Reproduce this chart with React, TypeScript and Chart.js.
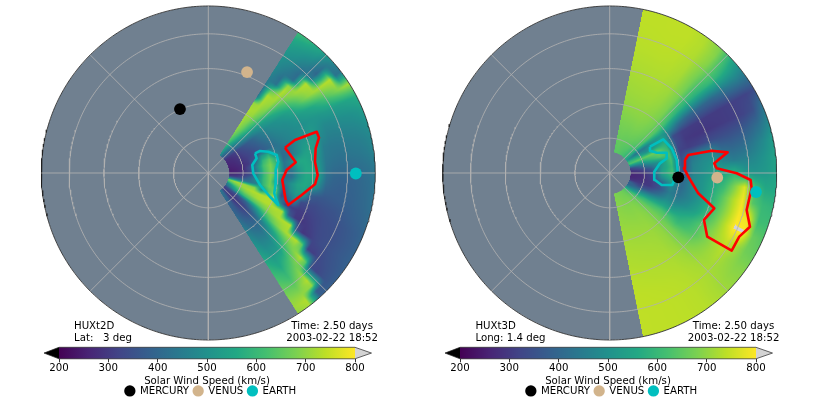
import React, { useEffect, useRef } from "react";
import { Chart, registerables } from "chart.js";

Chart.register(...registerables);

const FONT = "'DejaVu Sans'";
const RMAX = 240;
const RHOLE = 30;
const RINGS = [50, 100, 150, 200];
const SPOKES = [0, 45, 90, 135, 180, 225, 270, 315];
const CB_TICKS = [200, 300, 400, 500, 600, 700, 800];
const VIRIDIS = [
  [68, 1, 84], [72, 36, 117], [65, 68, 135], [53, 95, 141], [42, 120, 142], [33, 145, 140],
  [34, 168, 132], [68, 191, 112], [122, 209, 81], [189, 223, 38], [253, 231, 37],
];

// Longitude of the first column, spacing, and radial rows of each panel
const LEFT_THETA0 = 57.5;
const LEFT_DTHETA = 5;
const LEFT_EDGE = 57.5;
const LEFT_R = [30, 40, 50, 60, 70, 80, 90, 100, 110, 120, 130, 140, 150, 160, 170, 180, 190, 200, 210, 220, 230, 240];
const LEFT_SPEED = [
  [500, 560, 620, 660, 690, 710, 715, 720, 725, 700, 440, 410, 430, 450, 470, 480, 490, 505, 520, 540, 570, 610],
  [430, 470, 530, 590, 630, 660, 680, 700, 715, 720, 725, 725, 640, 430, 420, 440, 460, 480, 500, 520, 550, 590],
  [380, 410, 450, 500, 540, 580, 600, 630, 655, 680, 700, 715, 725, 730, 700, 420, 410, 430, 460, 490, 520, 550],
  [330, 350, 390, 430, 460, 480, 500, 520, 535, 560, 585, 610, 645, 680, 710, 725, 730, 450, 400, 420, 450, 490],
  [285, 300, 320, 350, 375, 400, 440, 470, 490, 500, 515, 535, 565, 610, 660, 695, 715, 725, 730, 735, 430, 430],
  [275, 285, 310, 335, 360, 385, 420, 450, 470, 485, 490, 505, 520, 535, 550, 570, 595, 625, 655, 685, 710, 720],
  [270, 280, 300, 325, 345, 370, 400, 430, 455, 470, 480, 490, 495, 505, 510, 515, 525, 530, 535, 545, 555, 570],
  [265, 275, 295, 315, 340, 365, 390, 415, 440, 460, 475, 490, 505, 520, 500, 480, 480, 490, 495, 500, 510, 530],
  [260, 270, 290, 310, 360, 520, 570, 460, 420, 430, 470, 510, 530, 530, 480, 460, 460, 465, 470, 475, 485, 500],
  [255, 265, 280, 305, 420, 590, 650, 560, 410, 430, 480, 530, 550, 520, 450, 440, 440, 445, 450, 455, 465, 480],
  [250, 258, 275, 340, 480, 620, 680, 590, 430, 480, 560, 560, 540, 500, 440, 430, 425, 430, 435, 440, 450, 470],
  [255, 260, 280, 330, 460, 610, 680, 600, 420, 440, 520, 560, 560, 510, 430, 415, 410, 410, 415, 420, 430, 445],
  [270, 280, 300, 340, 470, 600, 680, 590, 410, 420, 510, 560, 560, 520, 420, 395, 390, 390, 395, 405, 415, 435],
  [300, 310, 340, 400, 480, 600, 670, 500, 430, 500, 550, 560, 530, 470, 395, 385, 380, 385, 390, 400, 410, 430],
  [450, 440, 430, 430, 450, 590, 670, 640, 350, 480, 530, 540, 380, 365, 365, 370, 375, 380, 385, 395, 405, 420],
  [680, 720, 720, 700, 690, 500, 620, 700, 340, 400, 490, 340, 335, 335, 345, 350, 355, 365, 375, 385, 395, 410],
  [600, 660, 700, 720, 730, 730, 730, 730, 500, 320, 310, 305, 310, 320, 330, 340, 345, 350, 360, 370, 380, 395],
  [450, 560, 640, 680, 700, 720, 730, 730, 730, 720, 380, 300, 295, 305, 320, 335, 340, 345, 355, 365, 375, 390],
  [420, 480, 560, 600, 620, 640, 660, 690, 710, 725, 730, 730, 340, 295, 305, 325, 340, 345, 355, 365, 375, 385],
  [340, 340, 340, 370, 400, 460, 520, 580, 630, 670, 700, 720, 730, 730, 640, 315, 310, 330, 345, 355, 365, 380],
  [300, 300, 300, 315, 330, 360, 400, 440, 480, 520, 560, 600, 640, 670, 700, 730, 640, 335, 325, 345, 360, 380],
  [330, 315, 300, 315, 330, 350, 380, 400, 420, 450, 480, 505, 530, 575, 620, 650, 680, 705, 730, 700, 375, 380],
  [420, 400, 380, 370, 370, 380, 400, 420, 440, 460, 480, 500, 520, 540, 560, 590, 610, 640, 670, 700, 730, 720],
  [440, 420, 400, 390, 400, 420, 440, 460, 480, 500, 520, 540, 560, 580, 600, 620, 640, 660, 680, 700, 710, 700],
];

const RIGHT_THETA0 = 78;
const RIGHT_DTHETA = 6;
const RIGHT_EDGE = 78.5;
const RIGHT_R = [30, 45, 60, 75, 90, 105, 120, 135, 150, 165, 180, 195, 210, 225, 240];
const RIGHT_SPEED = [
  [640, 650, 665, 678, 690, 702, 710, 716, 722, 728, 733, 736, 738, 740, 740],
  [645, 655, 668, 680, 692, 704, 712, 718, 724, 729, 734, 737, 739, 740, 740],
  [640, 650, 665, 680, 694, 705, 713, 719, 725, 730, 735, 738, 740, 741, 741],
  [630, 645, 665, 682, 694, 704, 712, 718, 723, 729, 733, 736, 739, 741, 741],
  [620, 640, 660, 677, 688, 696, 703, 708, 713, 718, 722, 725, 728, 730, 726],
  [600, 620, 650, 665, 675, 680, 682, 680, 678, 675, 675, 680, 690, 690, 680],
  [570, 590, 625, 640, 640, 620, 595, 580, 575, 575, 585, 600, 590, 570, 540],
  [520, 430, 440, 500, 520, 490, 430, 400, 395, 395, 400, 420, 440, 450, 440],
  [600, 560, 490, 530, 570, 340, 310, 305, 305, 305, 305, 310, 315, 320, 340],
  [620, 650, 660, 670, 590, 340, 300, 295, 295, 300, 305, 310, 320, 345, 430],
  [480, 520, 580, 640, 620, 320, 310, 320, 340, 345, 350, 360, 385, 420, 480],
  [320, 400, 470, 500, 620, 340, 430, 470, 480, 410, 400, 410, 440, 480, 530],
  [290, 320, 370, 520, 600, 340, 460, 490, 510, 470, 450, 460, 480, 510, 545],
  [270, 280, 320, 540, 620, 350, 470, 500, 540, 560, 590, 520, 510, 520, 545],
  [265, 275, 310, 470, 560, 400, 480, 510, 560, 600, 680, 770, 620, 560, 560],
  [270, 280, 300, 350, 480, 410, 470, 510, 570, 640, 720, 790, 640, 600, 590],
  [290, 300, 300, 360, 450, 430, 470, 520, 580, 650, 720, 795, 780, 610, 610],
  [400, 340, 360, 420, 480, 470, 500, 540, 600, 660, 730, 802, 804, 660, 640],
  [380, 430, 480, 520, 540, 530, 560, 590, 640, 680, 720, 750, 720, 670, 660],
  [450, 530, 590, 610, 630, 620, 600, 620, 640, 680, 710, 730, 705, 690, 690],
  [560, 630, 650, 665, 670, 670, 670, 670, 680, 695, 710, 718, 712, 705, 705],
  [640, 665, 680, 690, 695, 700, 702, 704, 710, 716, 722, 725, 724, 722, 722],
  [660, 678, 690, 698, 704, 710, 714, 718, 723, 727, 731, 733, 734, 734, 734],
  [670, 680, 690, 698, 706, 712, 718, 722, 727, 731, 735, 737, 738, 738, 738],
  [675, 685, 692, 700, 708, 714, 720, 724, 729, 733, 737, 739, 740, 740, 740],
  [680, 688, 695, 702, 710, 716, 722, 726, 731, 735, 739, 740, 741, 741, 741],
  [682, 690, 698, 704, 712, 718, 724, 728, 733, 737, 740, 741, 742, 742, 742],
];

// Contours, in solar radii (x, y) on the panel plane
const LEFT_CYAN_X = [67.1, 74.3, 86.2, 98.3, 100.6, 96.9, 96.9, 94.8, 100.6, 88.7, 74.3, 64.7, 63.2, 69.5];
const LEFT_CYAN_Y = [28.3, 31.6, 30.6, 25.9, 16.2, 4.3, -14.8, -29.2, -46, -34.1, -17.2, -0.4, 11.5, 21.1];
const LEFT_RED_X = [110.2, 124.6, 155.8, 159.1, 154.3, 153.3, 157.2, 153.3, 134.2, 114.9, 111.2, 106.3, 112.6, 125.6, 119.8];
const LEFT_RED_Y = [36.4, 47.4, 59.3, 50.7, 35.5, 16.2, -2.9, -16.2, -31.6, -46, -38.8, -10.1, 4.3, 15.4, 23.4];
const RIGHT_CYAN_X = [57.9, 77, 89.1, 96.3, 97.7, 89.9, 74.7, 65.1, 64.1, 72.3, 82.3, 81.9, 67.5, 57.9];
const RIGHT_CYAN_Y = [37.8, 48.4, 35.5, 18.7, 1.9, -17.2, -17.2, -10.1, 1.9, 13.9, 21.1, 29.2, 29.2, 32];
const RIGHT_RED_X = [108.2, 112.9, 146.6, 169.5, 150.3, 153.7, 182.5, 202.6, 204, 196.8, 201.6, 186.2, 175.3, 140.2, 135.5, 150.3, 127.3, 114.4, 106.8];
const RIGHT_RED_Y = [18.7, 25.9, 32, 29.7, 13.9, 6.8, -0.4, -10.1, -22, -53.2, -77.2, -91.5, -111.6, -91.5, -67.5, -50.7, -29.2, -7.6, 6.8];

const PLANET_NAMES = ["MERCURY", "VENUS", "EARTH"];
const PLANET_COLORS = ["#000000", "#d2b48c", "#00bfbf"];
const LEFT_PLANET_R = [100.5, 155.4, 212];
const LEFT_PLANET_THETA = [113.9, 69, -0.2];
const RIGHT_PLANET_R = [98.8, 154.7, 212];
const RIGHT_PLANET_THETA = [-3.6, -2.5, -7.4];

const polar = (r: number, deg: number) => ({
  x: r * Math.cos((deg * Math.PI) / 180),
  y: r * Math.sin((deg * Math.PI) / 180),
});

function viridis(v: number): number[] {
  if (v > 800) return [211, 211, 211];
  const t = Math.max(0, Math.min(1, (v - 200) / 600)) * 10;
  const i = Math.min(9, Math.floor(t));
  const f = t - i;
  return [0, 1, 2].map((k) => VIRIDIS[i][k] + (VIRIDIS[i + 1][k] - VIRIDIS[i][k]) * f);
}

type Field = { theta0: number; dTheta: number; edge: number; r: number[]; speed: number[][] };

function sampleField(f: Field, theta: number, r: number): number {
  const u = Math.max(0, Math.min(f.speed.length - 1.0001, (f.theta0 - theta) / f.dTheta));
  const step = f.r[1] - f.r[0];
  const w = Math.max(0, Math.min(f.r.length - 1.0001, (r - f.r[0]) / step));
  const i = Math.floor(u);
  const j = Math.floor(w);
  const a = u - i;
  const b = w - j;
  return (
    f.speed[i][j] * (1 - a) * (1 - b) +
    f.speed[i + 1][j] * a * (1 - b) +
    f.speed[i][j + 1] * (1 - a) * b +
    f.speed[i + 1][j + 1] * a * b
  );
}

const fieldPlugin = (field: Field, notes: { l: string[]; r: string[] }) => ({
  id: "solarField",
  beforeDatasetsDraw(chart: any) {
    const { ctx, chartArea, scales } = chart;
    const sx = scales.x;
    const sy = scales.y;
    const cx = sx.getPixelForValue(0);
    const cy = sy.getPixelForValue(0);
    const rad = sx.getPixelForValue(RMAX) - cx;
    ctx.save();
    ctx.beginPath();
    ctx.arc(cx, cy, rad, 0, Math.PI * 2);
    ctx.fillStyle = "#708090";
    ctx.fill();
    ctx.clip();
    const ss = 2;
    const w = Math.ceil(chartArea.width) * ss;
    const h = Math.ceil(chartArea.height) * ss;
    const off = document.createElement("canvas");
    off.width = w;
    off.height = h;
    const octx = off.getContext("2d")!;
    const img = octx.createImageData(w, h);
    for (let j = 0; j < h; j++) {
      const yv = sy.getValueForPixel(chartArea.top + (j + 0.5) / ss);
      for (let i = 0; i < w; i++) {
        const xv = sx.getValueForPixel(chartArea.left + (i + 0.5) / ss);
        const r = Math.hypot(xv, yv);
        if (r < RHOLE || r > RMAX) continue;
        const th = (Math.atan2(yv, xv) * 180) / Math.PI;
        if (Math.abs(th) > field.edge) continue;
        const c = viridis(sampleField(field, th, r));
        const p = (j * w + i) * 4;
        img.data[p] = c[0];
        img.data[p + 1] = c[1];
        img.data[p + 2] = c[2];
        img.data[p + 3] = 255;
      }
    }
    octx.putImageData(img, 0, 0);
    ctx.imageSmoothingEnabled = true;
    ctx.drawImage(off, chartArea.left, chartArea.top, w / ss, h / ss);
    ctx.restore();
  },
  afterDatasetsDraw(chart: any) {
    const { ctx, scales } = chart;
    ctx.save();
    ctx.font = `10.2px ${FONT}`;
    ctx.fillStyle = "#000";
    ctx.textBaseline = "middle";
    ctx.textAlign = "left";
    const x1 = scales.x.getPixelForValue(-193);
    ctx.fillText(notes.l[0], x1, scales.y.getPixelForValue(-219.8));
    ctx.fillText(notes.l[1], x1, scales.y.getPixelForValue(-237));
    ctx.textAlign = "center";
    const x2 = scales.x.getPixelForValue(178);
    ctx.fillText(notes.r[0], x2, scales.y.getPixelForValue(-219.8));
    ctx.fillText(notes.r[1], x2, scales.y.getPixelForValue(-237));
    ctx.restore();
  },
});

const lineSet = (data: any[], color: string, width: number, order: number) => ({
  type: "scatter",
  showLine: true,
  data,
  borderColor: color,
  backgroundColor: color,
  borderWidth: width,
  pointRadius: 0,
  tension: 0,
  clip: false,
  order,
  borderJoinStyle: "round",
});

const closed = (xs: number[], ys: number[]) =>
  [...xs, xs[0]].map((x, i) => ({ x, y: ys[i % ys.length] }));

function diskConfig(field: Field, cyan: any[], red: any[], pr: number[], pt: number[], notes: any, dx: number) {
  const circle = (r: number) => {
    const pts: any[] = [];
    for (let a = 0; a <= 360; a += 1) pts.push(polar(r, a));
    return pts;
  };
  return {
    type: "scatter",
    data: {
      datasets: [
        ...PLANET_NAMES.map((n, i) => ({
          label: n,
          data: [polar(pr[i], pt[i])],
          backgroundColor: PLANET_COLORS[i],
          borderWidth: 0,
          pointRadius: 5.9,
          clip: false,
          order: 0,
        })),
        lineSet(red, "#ff0000", 2.6, 1),
        lineSet(cyan, "#00bfbf", 2.6, 1),
        ...RINGS.map((r) => lineSet(circle(r), "rgba(176,176,176,0.95)", 0.9, 2)),
        ...SPOKES.map((a) => lineSet([{ x: 0, y: 0 }, polar(RMAX, a)], "rgba(176,176,176,0.95)", 0.9, 2)),
        lineSet(circle(RMAX), "rgba(30,30,30,0.8)", 1, 2),
      ],
    },
    options: {
      responsive: false,
      animation: false,
      events: [],
      layout: { padding: { left: 41 + dx, right: 41 - dx, top: 6, bottom: 69 } },
      plugins: { legend: { display: false }, tooltip: { enabled: false } },
      scales: {
        x: { type: "linear", min: -RMAX, max: RMAX, display: false },
        y: { type: "linear", min: -RMAX, max: RMAX, display: false },
      },
    },
    plugins: [fieldPlugin(field, notes)],
  };
}

const colorbarPlugin = {
  id: "colorbarFill",
  afterLayout(chart: any) {
    chart.legend.left += 3.5;
    chart.legend.right += 3.5;
  },
  beforeDatasetsDraw(chart: any) {
    const { ctx, chartArea: a, scales } = chart;
    const sx = scales.x;
    ctx.save();
    const grad = ctx.createLinearGradient(sx.getPixelForValue(200), 0, sx.getPixelForValue(800), 0);
    VIRIDIS.forEach((c, i) => grad.addColorStop(i / (VIRIDIS.length - 1), `rgb(${c[0]},${c[1]},${c[2]})`));
    ctx.fillStyle = grad;
    ctx.fillRect(a.left, a.top, a.width, a.height);
    const midY = (a.top + a.bottom) / 2;
    const ext = 15;
    ctx.fillStyle = "#000";
    ctx.beginPath();
    ctx.moveTo(a.left, a.top);
    ctx.lineTo(a.left - ext, midY);
    ctx.lineTo(a.left, a.bottom);
    ctx.closePath();
    ctx.fill();
    ctx.fillStyle = "#d3d3d3";
    ctx.beginPath();
    ctx.moveTo(a.right, a.top);
    ctx.lineTo(a.right + ext + 1.5, midY);
    ctx.lineTo(a.right, a.bottom);
    ctx.closePath();
    ctx.fill();
    ctx.strokeStyle = "#222";
    ctx.lineWidth = 0.7;
    ctx.beginPath();
    ctx.moveTo(a.left, a.top);
    ctx.lineTo(a.left - ext, midY);
    ctx.lineTo(a.left, a.bottom);
    ctx.lineTo(a.right, a.bottom);
    ctx.lineTo(a.right + ext + 1.5, midY);
    ctx.lineTo(a.right, a.top);
    ctx.closePath();
    ctx.stroke();
    ctx.restore();
  },
};

function barConfig() {
  return {
    type: "scatter",
    data: {
      datasets: PLANET_NAMES.map((n, i) => ({
        label: n,
        data: [],
        backgroundColor: PLANET_COLORS[i],
        borderColor: PLANET_COLORS[i],
        borderWidth: 0,
        pointStyle: "circle",
      })),
    },
    options: {
      responsive: false,
      animation: false,
      events: [],
      layout: { padding: { left: 59, right: 61, top: 7.3, bottom: 2 } },
      plugins: {
        tooltip: { enabled: false },
        legend: {
          position: "bottom",
          labels: {
            usePointStyle: true,
            pointStyle: "circle",
            boxHeight: 8,
            boxWidth: 11,
            padding: 4,
            color: "#000",
            font: { family: FONT, size: 10.2 },
          },
        },
      },
      scales: {
        y: { type: "linear", min: 0, max: 1, display: false },
        x: {
          type: "linear",
          min: 200,
          max: 800,
          afterBuildTicks: (s: any) => {
            s.ticks = CB_TICKS.map((value) => ({ value }));
          },
          afterFit: (s: any) => {
            s.height = 23;
          },
          border: { display: false },
          grid: { drawOnChartArea: false, color: "#000", tickLength: 3.5, tickWidth: 0.8 },
          ticks: { color: "#000", font: { family: FONT, size: 10.2 }, padding: 0, maxRotation: 0, autoSkip: false },
          title: {
            display: true,
            text: "Solar Wind Speed (km/s)",
            color: "#000",
            font: { family: FONT, size: 10.2 },
            padding: { top: 0, bottom: -6 },
          },
        },
      },
    },
    plugins: [colorbarPlugin],
  };
}

const LEFT_FIELD: Field = { theta0: LEFT_THETA0, dTheta: LEFT_DTHETA, edge: LEFT_EDGE, r: LEFT_R, speed: LEFT_SPEED };
const RIGHT_FIELD: Field = { theta0: RIGHT_THETA0, dTheta: RIGHT_DTHETA, edge: RIGHT_EDGE, r: RIGHT_R, speed: RIGHT_SPEED };

function Panel({ left, config }: { left: number; config: any }) {
  const disk = useRef<HTMLCanvasElement>(null);
  const bar = useRef<HTMLCanvasElement>(null);
  useEffect(() => {
    const a = new Chart(disk.current as any, config as any);
    const b = new Chart(bar.current as any, barConfig() as any);
    return () => {
      a.destroy();
      b.destroy();
    };
  }, []);
  return (
    <>
      <canvas ref={disk} width={416} height={409} style={{ position: "absolute", left, top: 0 }} />
      <canvas ref={bar} width={416} height={68} style={{ position: "absolute", left, top: 340 }} />
    </>
  );
}

export default function App() {
  const leftCfg = diskConfig(
    LEFT_FIELD,
    closed(LEFT_CYAN_X, LEFT_CYAN_Y),
    closed(LEFT_RED_X, LEFT_RED_Y),
    LEFT_PLANET_R,
    LEFT_PLANET_THETA,
    { l: ["HUXt2D", "Lat:   3 deg"], r: ["Time: 2.50 days", "2003-02-22 18:52"] },
    0.3
  );
  const rightCfg = diskConfig(
    RIGHT_FIELD,
    closed(RIGHT_CYAN_X, RIGHT_CYAN_Y),
    closed(RIGHT_RED_X, RIGHT_RED_Y),
    RIGHT_PLANET_R,
    RIGHT_PLANET_THETA,
    { l: ["HUXt3D", "Long: 1.4 deg"], r: ["Time: 2.50 days", "2003-02-22 18:52"] },
    0.7
  );
  return (
    <div style={{ position: "fixed", left: 0, top: 0, width: 817, height: 409, background: "#fff", overflow: "hidden" }}>
      <Panel left={0} config={leftCfg} />
      <Panel left={401} config={rightCfg} />
    </div>
  );
}
